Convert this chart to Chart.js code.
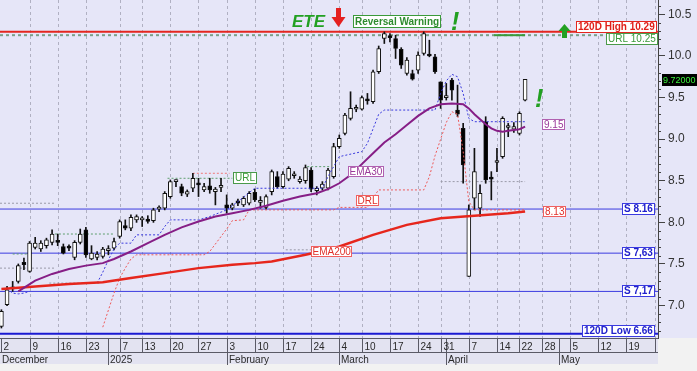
<!DOCTYPE html>
<html><head><meta charset="utf-8">
<script src="https://cdn.jsdelivr.net/npm/chart.js@4/dist/chart.umd.min.js"></script>
<style>
html,body{margin:0;padding:0;background:#f3f3f3;overflow:hidden}
canvas{display:block}
</style></head>
<body>
<canvas id="c" width="697" height="371"></canvas>
<script>
// ---------------- data ----------------
const dates = [
'2024-12-02','2024-12-03','2024-12-04','2024-12-05','2024-12-06','2024-12-09','2024-12-10','2024-12-11','2024-12-12','2024-12-13',
'2024-12-16','2024-12-17','2024-12-18','2024-12-19','2024-12-20','2024-12-23','2024-12-24','2024-12-27','2024-12-30',
'2025-01-02','2025-01-03','2025-01-07','2025-01-08','2025-01-09','2025-01-10','2025-01-13','2025-01-14','2025-01-15','2025-01-16',
'2025-01-17','2025-01-20','2025-01-21','2025-01-22','2025-01-23','2025-01-24','2025-01-27','2025-01-28','2025-01-29','2025-01-30','2025-01-31',
'2025-02-03','2025-02-04','2025-02-05','2025-02-06','2025-02-07','2025-02-10','2025-02-11','2025-02-12','2025-02-13','2025-02-14',
'2025-02-17','2025-02-18','2025-02-19','2025-02-20','2025-02-21','2025-02-24','2025-02-25','2025-02-26','2025-02-27','2025-02-28',
'2025-03-04','2025-03-05','2025-03-06','2025-03-07','2025-03-10','2025-03-11','2025-03-12','2025-03-13','2025-03-14',
'2025-03-17','2025-03-18','2025-03-19','2025-03-20','2025-03-21','2025-03-24','2025-03-26','2025-03-27','2025-03-28','2025-03-31',
'2025-04-01','2025-04-02','2025-04-03','2025-04-04','2025-04-07','2025-04-08','2025-04-09','2025-04-10','2025-04-11',
'2025-04-14','2025-04-15','2025-04-16','2025-04-17','2025-04-22','2025-04-23',
'2025-04-24','2025-04-25','2025-04-28','2025-04-29','2025-04-30','2025-05-01','2025-05-02',
'2025-05-05','2025-05-06','2025-05-07','2025-05-08','2025-05-09','2025-05-12','2025-05-13','2025-05-14','2025-05-15','2025-05-16',
'2025-05-19','2025-05-20','2025-05-21','2025-05-22','2025-05-23','2025-05-26'
];
// positions (in dates) of the weekly tick labels shown on the axis
const weekTicks = [0,5,10,15,21,25,30,35,40,45,50,55,60,64,69,74,78,83,88,92,96,101,106,111,116];

const open = [6.75,7.01,7.20,7.29,7.52,7.41,7.70,7.68,7.72,7.76,
7.77,7.71,7.70,7.58,7.76,7.91,7.56,7.58,7.59,7.66,
7.69,7.83,7.96,7.93,8.03,8.03,8.04,8.02,8.16,8.17,
8.31,8.49,8.43,8.34,8.41,8.46,8.39,8.44,8.37,8.42,
8.21,8.17,8.26,8.21,8.23,8.36,8.24,8.18,8.37,8.55,
8.43,8.52,8.56,8.49,8.50,8.63,8.38,8.41,8.41,8.55,
8.91,9.07,9.25,9.36,9.36,9.48,9.45,9.81,10.21,10.23,
10.21,10.08,9.79,9.79,9.83,10.03,10.02,9.99,9.69,9.50,
9.71,9.35,9.13,7.35,8.29,8.17,9.21,8.53,8.72,8.79,
9.14,9.12,9.07,9.47];
const high = [6.95,7.23,7.29,7.50,7.57,7.77,7.82,7.78,7.81,7.91,
7.86,7.74,7.73,7.78,7.92,7.94,7.72,7.65,7.70,7.72,
7.81,8.03,8.03,8.09,8.09,8.07,8.08,8.17,8.20,8.37,
8.51,8.51,8.46,8.39,8.59,8.53,8.47,8.53,8.42,8.53,
8.33,8.23,8.28,8.31,8.37,8.40,8.31,8.33,8.63,8.61,
8.61,8.67,8.61,8.55,8.69,8.66,8.43,8.49,8.65,8.95,
9.05,9.31,9.57,9.41,9.52,9.55,9.83,10.12,10.29,10.27,
10.25,10.10,9.98,9.83,10.05,10.29,10.19,10.02,9.69,9.67,
9.73,9.65,9.19,8.21,8.89,8.45,9.27,8.61,8.89,9.27,
9.19,9.20,9.33,9.72];
const low = [6.73,7.00,7.17,7.27,7.43,7.40,7.68,7.65,7.69,7.73,
7.72,7.62,7.66,7.55,7.74,7.58,7.55,7.55,7.57,7.61,
7.67,7.81,7.91,7.90,8.00,7.95,7.99,8.00,8.13,8.15,
8.29,8.43,8.32,8.31,8.37,8.31,8.37,8.35,8.21,8.37,
8.11,8.15,8.20,8.19,8.21,8.25,8.17,8.16,8.33,8.41,
8.41,8.50,8.53,8.47,8.47,8.37,8.33,8.39,8.39,8.53,
8.89,9.05,9.23,9.33,9.35,9.42,9.43,9.79,10.15,10.17,
9.97,9.85,9.77,9.71,9.79,10.01,9.99,9.79,9.37,9.47,
9.47,9.27,8.47,7.35,8.15,8.07,8.47,8.27,8.61,8.77,
9.03,9.08,9.05,9.46];
const close = [6.93,7.19,7.22,7.48,7.49,7.75,7.75,7.75,7.79,7.86,
7.76,7.63,7.69,7.76,7.86,7.61,7.63,7.62,7.68,7.67,
7.77,8.01,7.93,8.06,8.07,8.04,8.01,8.15,8.17,8.35,
8.49,8.50,8.35,8.37,8.53,8.45,8.43,8.39,8.40,8.43,
8.17,8.21,8.23,8.29,8.35,8.27,8.25,8.31,8.61,8.43,
8.58,8.65,8.57,8.52,8.66,8.40,8.41,8.46,8.63,8.91,
9.01,9.29,9.37,9.37,9.50,9.46,9.81,10.09,10.27,10.22,
10.09,9.89,9.95,9.72,10.01,10.27,10.00,9.81,9.47,9.51,
9.59,9.30,8.69,8.15,8.61,8.35,8.51,8.52,8.74,9.25,
9.16,9.15,9.31,9.72];

const ema30X = [3,6,9,12,15,18,20,23,26,29,32,35,38,41,44,47,50,53,56,58,60,62,64,66,68,70,72,74,76,78,80,82,83,84,85,86,87,88,89,90,91,92,93];
const ema30  = [7.17,7.30,7.38,7.44,7.48,7.51,7.56,7.65,7.75,7.85,7.94,8.01,8.07,8.11,8.15,8.20,8.26,8.31,8.35,8.40,8.47,8.57,8.70,8.83,8.96,9.06,9.17,9.28,9.37,9.42,9.43,9.42,9.37,9.30,9.24,9.18,9.13,9.10,9.09,9.10,9.11,9.12,9.15];

const ema200X = [0,6,12,18,23,29,35,41,45,48,54,58,60,66,72,78,84,90,93];
const ema200  = [7.20,7.23,7.26,7.28,7.33,7.39,7.45,7.49,7.51,7.53,7.61,7.67,7.71,7.85,7.97,8.05,8.08,8.11,8.13];

const upperX = [1,2,3,4,5,10,17,18,19,20,21,23,24,28,29,30,35,37,40,42,45,57,58,60,64,65,67,68,77,78,79,80,81,82,83,84,93];
const upper  = [7.20,7.15,7.14,7.15,7.17,null,7.27,7.40,7.55,7.68,7.75,7.75,7.85,7.85,7.95,8.03,8.03,8.07,8.15,8.25,8.41,8.41,8.55,8.79,8.85,8.95,9.30,9.35,9.35,9.55,9.70,9.78,9.75,9.55,9.25,9.21,9.21];

const drlX = [18,20,21,22,23,24,36,37,38,39,40,41,43,44,59,60,65,66,67,75,76,77,78,79,80,81,82,83,84,93];
const drl  = [6.74,7.15,7.33,7.45,7.56,7.61,7.61,7.65,7.74,7.83,7.92,8.02,8.03,8.15,8.15,8.18,8.18,8.30,8.39,8.39,8.55,8.80,9.00,9.20,9.33,9.30,8.85,8.25,8.15,8.15];

const levelFrom = [-0.25,-0.25, 8.5, 9.5, 2.0,29.5,34.0,54.3,50.5,78.0,87.5];
const levelTo   = [ 9.5,  9.5,17.5,20.0, 4.7,41.0,40.5,58.5,55.0,93.0,93.0];
const levelY    = [ 8.23, 7.45,7.27,7.86,7.62,8.53,8.59,8.67,7.67,8.49,10.25];
const levelKind = ['grey','grey','grey','green','green','green','red','green','grey','grey','greenSolid'];

const yTicks = [7.0,7.5,8.0,8.5,9.0,9.5,10.0,10.5];
const supportY = [8.16,7.63,7.17];
const supportText = ['S 8.16','S 7,63','S 7,17'];
const high120 = 10.29, low120 = 6.66, urlLevel = 10.25;
const lastEma30 = 9.15, lastEma200 = 8.13, lastPrice = 9.72;

// ---------------- derived helpers ----------------
const X_MIN = -0.25, X_MAX = 116.6;
const parseD = s => { const [y,m,d] = s.split('-').map(Number); return new Date(Date.UTC(y, m-1, d)); };
const D = dates.map(parseD);
const monthStarts = [];
D.forEach((d, i) => {
  if (i === 0 || d.getUTCMonth() !== D[i-1].getUTCMonth()) monthStarts.push(i);
});
const MONTHS = ['January','February','March','April','May','June','July','August','September','October','November','December'];
const monthLabel = i => D[i].getUTCMonth() === 0 ? String(D[i].getUTCFullYear()) : MONTHS[D[i].getUTCMonth()];

const idx = open.map((_, i) => i);
const pts = (xs, ys) => xs.map((x, i) => ({x, y: ys[i]}));
const hline = v => [{x: X_MIN, y: v}, {x: X_MAX, y: v}];

const FONT = '"Liberation Sans", Arial, Helvetica, sans-serif';
const LEVEL_STYLE = {
  grey:  {c:'#9a9aa8', w:1, d:[2,2]},
  green: {c:'#5f9f6f', w:1, d:[2,2]},
  red:   {c:'#ef7a7a', w:1, d:[2,2]},
  greenSolid: {c:'#3a9a3a', w:2, d:[]}
};

const lineDs = (data, color, width, dash, order) => ({
  type:'line', data, borderColor: color, borderWidth: width, borderDash: dash || [],
  pointRadius: 0, tension: 0, fill: false, spanGaps: false, order
});

const datasets = [];
datasets.push(lineDs(hline(urlLevel), '#7aa088', 2, [3,3], 41));
datasets.push(lineDs(hline(high120), '#e4261f', 2, [], 40));
supportY.forEach(v => datasets.push(lineDs(hline(v), '#3b3be0', 1, [], 40)));
datasets.push(lineDs(hline(low120), '#1a1ad2', 2, [], 40));
levelY.forEach((v, k) => {
  const s = LEVEL_STYLE[levelKind[k]];
  datasets.push(lineDs([{x: levelFrom[k], y: v}, {x: levelTo[k], y: v}], s.c, s.w, s.d, 35));
});
datasets.push({
  type:'bar', data: idx.map(i => ({x: i, y: [low[i], high[i]]})),
  backgroundColor:'#111', borderWidth:0, barThickness:1, grouped:false, order:30
});
datasets.push({
  type:'bar', data: idx.map(i => ({x: i, y: [open[i], close[i]]})),
  backgroundColor: idx.map(i => close[i] >= open[i] ? '#ffffff' : '#000000'),
  borderColor:'#111', borderWidth:1, borderSkipped:false, barThickness:4, minBarLength:2,
  grouped:false, order:29
});
datasets.push(lineDs(pts(drlX, drl), '#ee5a5a', 1, [2,2], 20));
datasets.push(lineDs(pts(upperX, upper), '#3a3ade', 1, [2,2], 19));
datasets.push(lineDs(pts(ema200X, ema200), '#e6261c', 2.5, [], 11));
datasets.push(lineDs(pts(ema30X, ema30), '#861e86', 2, [], 10));

// ---------------- drawing helpers ----------------
function boxLabel(ctx, text, o) {
  ctx.font = o.font;
  const tw = ctx.measureText(text).width;
  const w = Math.round(tw + 2 * o.pad);
  const h = o.h;
  const left = Math.round(o.right !== undefined ? o.right - w : o.left);
  const top = Math.round(o.yc - h / 2);
  ctx.fillStyle = o.bg; ctx.fillRect(left, top, w, h);
  if (o.border) { ctx.strokeStyle = o.border; ctx.lineWidth = 1; ctx.strokeRect(left + 0.5, top + 0.5, w - 1, h - 1); }
  ctx.fillStyle = o.color; ctx.textAlign = 'left'; ctx.textBaseline = 'middle';
  ctx.fillText(text, left + o.pad, top + h / 2 + 0.5);
}

const decor = {
  id: 'decor',
  beforeDraw(chart) {
    const {ctx, chartArea: a, width, height} = chart;
    ctx.save();
    ctx.fillStyle = '#f2f2f2'; ctx.fillRect(0, 0, width, height);
    ctx.fillStyle = '#e6e6f8'; ctx.fillRect(0, 0, width, a.bottom);
    ctx.fillStyle = '#e3e3f1'; ctx.fillRect(0, a.bottom, a.right, 26);
    ctx.restore();
  },
  beforeDatasetsDraw(chart) {
    const {ctx, chartArea: a, scales: {x}} = chart;
    ctx.save();
    ctx.strokeStyle = '#b0b0c2'; ctx.lineWidth = 1; ctx.setLineDash([3,3]);
    weekTicks.forEach(i => {
      if (i === 0) return;
      const px = Math.round(x.getPixelForValue(i)) + 0.5;
      ctx.beginPath(); ctx.moveTo(px, a.top); ctx.lineTo(px, a.bottom); ctx.stroke();
    });
    ctx.restore();
  },
  afterDraw(chart) {
    const {ctx, chartArea: a, scales: {x, y}} = chart;
    const b = a.bottom;
    ctx.save();
    // ---- bottom date axis ----
    ctx.beginPath(); ctx.rect(0, b, a.right, 40); ctx.clip();
    ctx.strokeStyle = '#5a5a66'; ctx.lineWidth = 1; ctx.setLineDash([]);
    ctx.beginPath();
    ctx.moveTo(0, b + 0.5); ctx.lineTo(a.right, b + 0.5);
    ctx.moveTo(0, b + 14.5); ctx.lineTo(a.right, b + 14.5);
    weekTicks.forEach(i => {
      const px = Math.round(x.getPixelForValue(i)) + 0.5;
      ctx.moveTo(px, b); ctx.lineTo(px, b + 14);
    });
    monthStarts.forEach(i => {
      if (i === 0) return;
      const px = Math.round(x.getPixelForValue(i)) + 0.5;
      ctx.moveTo(px, b); ctx.lineTo(px, b + 27);
    });
    ctx.stroke();
    ctx.fillStyle = '#2a2a2a'; ctx.font = '10px ' + FONT; ctx.textAlign = 'left'; ctx.textBaseline = 'alphabetic';
    weekTicks.forEach(i => {
      const px = Math.round(x.getPixelForValue(i));
      ctx.fillText(String(D[i].getUTCDate()), px + 2.5, b + 11.5);
    });
    monthStarts.forEach(i => {
      const px = i === 0 ? 0 : Math.round(x.getPixelForValue(i));
      ctx.fillText(monthLabel(i), px + 2, b + 24.5);
    });
    ctx.restore();

    ctx.save();
    // ---- minor ticks on the right axis ----
    ctx.strokeStyle = '#444'; ctx.lineWidth = 1;
    ctx.beginPath();
    for (let k = 67; k <= 106; k++) {
      if (k % 5 === 0) continue;
      const py = Math.round(y.getPixelForValue(k / 10)) + 0.5;
      ctx.moveTo(a.right, py); ctx.lineTo(a.right + 3, py);
    }
    ctx.stroke();

    // ---- right-hand level labels ----
    const bold = 'bold 10px ' + FONT, reg = '10px ' + FONT;
    const yHigh = y.getPixelForValue(high120);
    boxLabel(ctx, '120D High ' + high120.toFixed(2), {right: 657, yc: yHigh - 5, h: 12, pad: 2, font: bold, bg:'#fff', border:'#e4261f', color:'#e0201a'});
    boxLabel(ctx, 'URL ' + urlLevel.toFixed(2), {right: 658, yc: y.getPixelForValue(urlLevel) + 4, h: 12, pad: 2, font: reg, bg:'#fff', border:'#4a9a4a', color:'#3a9a3a'});
    supportY.forEach((v, k) => boxLabel(ctx, supportText[k], {right: 655, yc: y.getPixelForValue(v), h: 12, pad: 2, font: bold, bg:'#fff', border:'#3b3be0', color:'#2020cc'}));
    boxLabel(ctx, '120D Low ' + low120.toFixed(2), {right: 655, yc: y.getPixelForValue(low120) - 3, h: 12, pad: 2, font: bold, bg:'#fff', border:'#3b3be0', color:'#2020cc'});
    boxLabel(ctx, lastPrice.toFixed(5), {left: 662, yc: y.getPixelForValue(lastPrice) + 1, h: 12, pad: 1, font: '9px ' + FONT, bg:'#000', color:'#3cf03c'});
    boxLabel(ctx, lastEma30.toFixed(2), {left: 542, yc: y.getPixelForValue(lastEma30) - 2, h: 11, pad: 2, font: reg, bg:'#fff', border:'#b060b0', color:'#9a3a9a'});
    boxLabel(ctx, lastEma200.toFixed(2), {left: 543, yc: y.getPixelForValue(lastEma200), h: 11, pad: 2, font: reg, bg:'#fff', border:'#f06060', color:'#e0302a'});

    // ---- in-plot labels ----
    boxLabel(ctx, 'URL', {left: 233, yc: y.getPixelForValue(8.53), h: 12, pad: 2, font: reg, bg:'#fff', border:'#4a9a4a', color:'#3a9a3a'});
    boxLabel(ctx, 'EMA30', {left: 348, yc: 171, h: 11, pad: 1.5, font: reg, bg:'#fff', border:'#b060b0', color:'#9a3a9a'});
    boxLabel(ctx, 'DRL', {left: 356, yc: 200, h: 11, pad: 1.5, font: reg, bg:'#fff', border:'#f06060', color:'#e0302a'});
    boxLabel(ctx, 'EMA200', {left: 311, yc: 251, h: 11, pad: 1.5, font: reg, bg:'#fff', border:'#f06060', color:'#e0302a'});
    boxLabel(ctx, 'Reversal Warning', {left: 353, yc: 21, h: 13, pad: 2, font: bold, bg:'#fff', border:'#3a9a3a', color:'#2e8b2e'});

    // ETE text
    ctx.fillStyle = '#22a022'; ctx.textBaseline = 'alphabetic'; ctx.textAlign = 'left';
    ctx.font = 'italic bold 17px ' + FONT;
    ctx.fillText('ETE', 292, 27);
    // exclamation marks
    ctx.font = 'italic bold 25px ' + FONT;
    ctx.fillText('!', 451, 30);
    ctx.fillText('!', 535, 107);
    // red down arrow
    ctx.fillStyle = '#e52020';
    ctx.fillRect(336, 8, 5, 10);
    ctx.beginPath(); ctx.moveTo(331.5, 17); ctx.lineTo(345.5, 17); ctx.lineTo(338.5, 27); ctx.closePath(); ctx.fill();
    // green up arrow
    ctx.fillStyle = '#22a022';
    ctx.beginPath(); ctx.moveTo(558.5, 31); ctx.lineTo(570.5, 31); ctx.lineTo(564.5, 24); ctx.closePath(); ctx.fill();
    ctx.fillRect(562, 31, 5, 7);
    ctx.restore();
  }
};

new Chart(document.getElementById('c'), {
  type: 'bar',
  data: { datasets },
  options: {
    responsive: false, animation: false, devicePixelRatio: 1, events: [],
    layout: { padding: { left: 0, right: 0, top: 0, bottom: 33 } },
    plugins: { legend: { display: false }, tooltip: { enabled: false } },
    scales: {
      x: { type: 'linear', min: X_MIN, max: X_MAX, display: false, offset: false },
      y: {
        type: 'linear', position: 'right', min: 6.61, max: 10.673,
        afterBuildTicks: s => { s.ticks = yTicks.map(v => ({value: v})); },
        afterFit: s => { s.width = 39; s.paddingTop = 0; s.paddingBottom = 0; },
        ticks: { callback: v => Number(v).toFixed(1), color: '#333', font: { size: 12, family: FONT }, padding: 3, autoSkip: false },
        grid: { drawOnChartArea: false, drawTicks: true, tickLength: 7, tickColor: '#444' },
        border: { display: true, color: '#444', width: 1 }
      }
    }
  },
  plugins: [decor]
});
</script>
</body></html>
